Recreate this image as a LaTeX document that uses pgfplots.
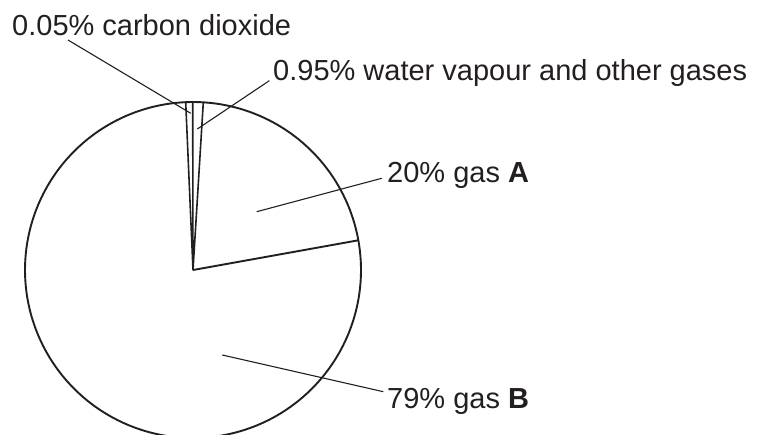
\documentclass[border=0pt]{standalone}
\usepackage{pgfplots}
\pgfplotsset{compat=1.18}
\usepackage{fontspec}
\setmainfont{Liberation Sans}
\definecolor{ink}{HTML}{231F20}
\begin{document}
\begin{tikzpicture}
\begin{axis}[
  scale only axis, width=757pt, height=434pt,
  xmin=0, xmax=757, ymin=0, ymax=434, y dir=reverse,
  hide axis, clip=true,
]
% pie outline (centre 193,270; radius 168)
\addplot[ink, line width=1.9pt, domain=0:360, samples=241] ({193+168*cos(x)},{270-168*sin(x)});
% slice boundaries: gas A / gas B (10.2 deg), gas B / CO2 (92.5 deg), CO2 / water (90.1 deg), water / gas A (86.5 deg)
\addplot[ink, line width=1.9pt] coordinates {(193,270) (358.3,240.3)};
\addplot[ink, line width=1.6pt] coordinates {(193,270) (185.7,102.2)};
\addplot[ink, line width=1.6pt] coordinates {(193,270) (192.7,102.0)};
\addplot[ink, line width=1.6pt] coordinates {(193,270) (203.3,102.3)};
% leader lines
\addplot[ink, line width=1.1pt] coordinates {(68,40) (190.7,113.3)};
\addplot[ink, line width=1.1pt] coordinates {(269.3,80.7) (197.3,129)};
\addplot[ink, line width=1.1pt] coordinates {(381.7,178.3) (256.7,211.7)};
\addplot[ink, line width=1.1pt] coordinates {(222.3,355) (383.3,391.7)};
% labels
\node[anchor=base west, inner sep=0pt, text=ink, font=\fontsize{29}{34}\selectfont] at (axis cs:12,35) {0.05\% carbon dioxide};
\node[anchor=base west, inner sep=0pt, text=ink, font=\fontsize{29}{34}\selectfont] at (axis cs:273,80) {0.95\% water vapour and other gases};
\node[anchor=base west, inner sep=0pt, text=ink, font=\fontsize{29}{34}\selectfont] at (axis cs:387,182) {20\% gas \textbf{A}};
\node[anchor=base west, inner sep=0pt, text=ink, font=\fontsize{29}{34}\selectfont] at (axis cs:387,408) {79\% gas \textbf{B}};
\end{axis}
\pgfresetboundingbox
\path[use as bounding box] (current axis.south west) rectangle (current axis.north east);
\end{tikzpicture}
\end{document}
